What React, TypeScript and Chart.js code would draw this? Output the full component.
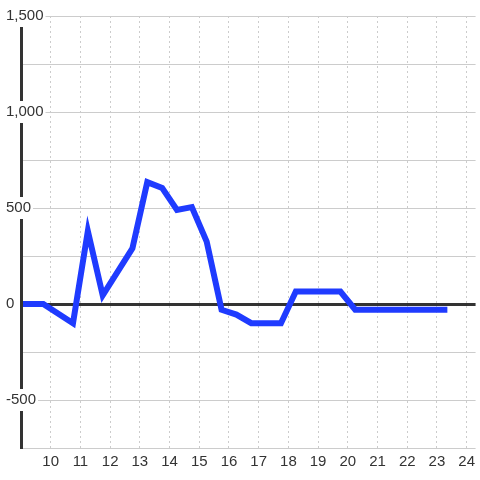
import React, { useEffect, useRef } from "react";
import { Chart, registerables } from "chart.js";

Chart.register(...registerables);

const xValues = [9, 9.75, 10.75, 11.25, 11.75, 12.75, 13.25, 13.75, 14.25, 14.75, 15.25, 15.75, 16.25, 16.75, 17.75, 18.25, 19.75, 20.25, 23.25];
const yValues = [0, 0, -100, 380, 45, 290, 635, 605, 490, 505, 325, -30, -55, -100, -100, 65, 65, -30, -30];
const xTicks = [10, 11, 12, 13, 14, 15, 16, 17, 18, 19, 20, 21, 22, 23, 24];
const yLabelValues = [-500, 0, 500, 1000, 1500];

const FONT = { family: "'Liberation Sans', Arial, sans-serif", size: 15 };

export default function App() {
  const ref = useRef<HTMLCanvasElement | null>(null);
  useEffect(() => {
    if (!ref.current) return;
    const chart = new Chart(ref.current, {
      type: "line",
      data: {
        datasets: [
          {
            data: xValues.map((x, i) => ({ x, y: yValues[i] })),
            borderColor: "#1f3bff",
            borderWidth: 6,
            pointRadius: 0,
            tension: 0,
            borderCapStyle: "square",
            borderJoinStyle: "miter",
            fill: false,
          },
        ],
      },
      options: {
        animation: false,
        responsive: false,
        devicePixelRatio: 1,
        layout: { padding: { left: 6, top: 16, right: 0, bottom: 0 } },
        plugins: { legend: { display: false }, tooltip: { enabled: false } },
        scales: {
          x: {
            type: "linear",
            position: "bottom",
            min: 9,
            max: 24.3,
            afterBuildTicks: (scale: any) => {
              scale.ticks = xTicks.map((v) => ({ value: v }));
            },
            afterFit: (scale: any) => {
              scale.height = 32;
            },
            grid: { color: "#cccccc", lineWidth: 1, drawTicks: false },
            border: { display: false, dash: [2, 3] },
            ticks: {
              autoSkip: false,
              maxRotation: 0,
              padding: 5,
              color: "#333333",
              font: FONT,
              callback: (v: any) => String(v),
            },
          },
          y: {
            type: "linear",
            position: "left",
            min: -750,
            max: 1500,
            afterFit: (scale: any) => {
              scale.width = 15;
            },
            grid: {
              drawTicks: false,
              color: (ctx: any) => (ctx.tick && ctx.tick.value === 0 ? "#333333" : "#cccccc"),
              lineWidth: (ctx: any) => (ctx.tick && ctx.tick.value === 0 ? 3 : 1),
            },
            border: { display: true, color: "#333333", width: 3, z: 1 },
            ticks: {
              stepSize: 250,
              mirror: true,
              crossAlign: "near",
              padding: -15,
              z: 1,
              color: "#333333",
              font: FONT,
              showLabelBackdrop: (ctx: any) => yLabelValues.includes(ctx.tick?.value),
              backdropColor: "#ffffff",
              backdropPadding: 2,
              callback: (v: any) =>
                yLabelValues.includes(Number(v)) ? Number(v).toLocaleString("en-US") : "",
            },
          },
        },
      } as any,
    });
    return () => chart.destroy();
  }, []);
  return (
    <div style={{ position: "absolute", left: 0, top: 0, width: 480, height: 480, background: "#ffffff" }}>
      <canvas ref={ref} width={480} height={480} style={{ display: "block" }} />
    </div>
  );
}
